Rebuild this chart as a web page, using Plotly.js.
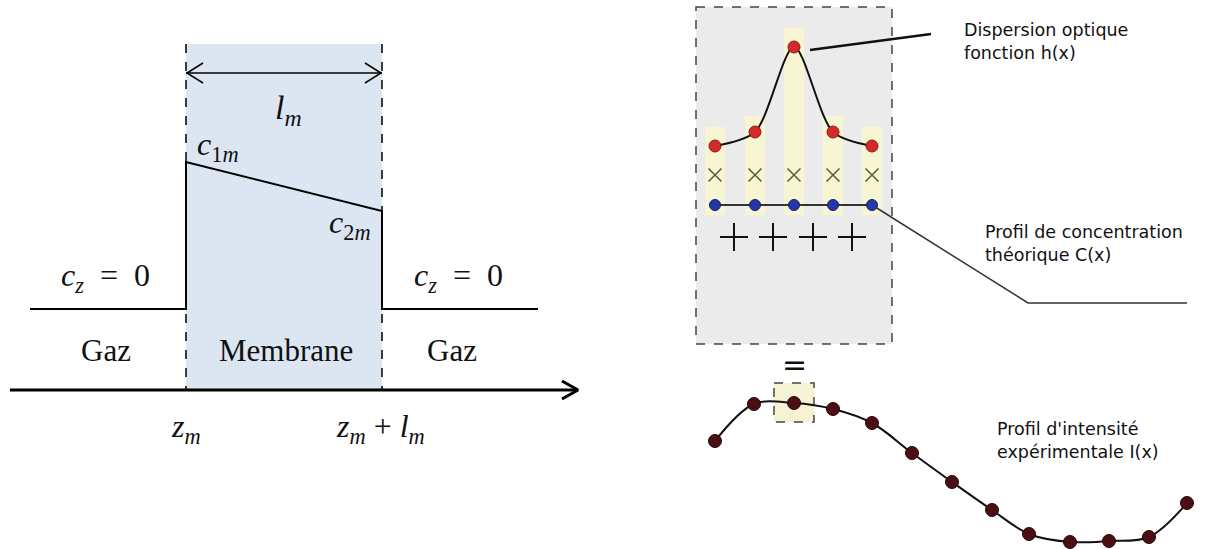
<!DOCTYPE html>
<html>
<head>
<meta charset="utf-8">
<script src="https://cdn.plot.ly/plotly-3.0.1.min.js"></script>
<style>html,body{margin:0;padding:0;background:#fff;}#chart{width:1208px;height:549px;}</style>
</head>
<body>
<div id="chart"></div>
<script>
// ---- Left diagram: concentration profile through the membrane ----
const profileX = [30, 186, 186, 382, 382, 538];
const profileY = [309, 309, 162, 211, 309, 309];
const membraneX = [186, 382];      // z_m, z_m + l_m
const membraneTopY = 44;
const axisX = [10, 578];
const axisY = 390;

// ---- Right diagram: convolution ----
const sampleX = [715, 755, 794, 833, 872];
const hY = [146, 132, 47, 132, 146];          // dispersion optique h(x)
const barTopY = [127, 116, 28, 116, 127];     // yellow bars
const barBottomY = 215;
const timesY = 175;
const cY = [205, 205, 205, 205, 205];         // profil de concentration C(x)
const plusX = [734, 773, 813, 852];
const plusY = 237;
const iX = [715, 754, 794, 833, 872, 912, 952, 992, 1029, 1070, 1109, 1149, 1187];
const iY = [441, 404, 403, 409, 423, 453, 482, 510, 534, 542, 541, 537, 503];

const serif = 'Liberation Serif, Times New Roman, serif';
const sans = 'DejaVu Sans, sans-serif';

const traces = [];
// yellow bars
traces.push({type:'bar', x: sampleX, base: sampleX.map(()=>barBottomY),
  y: barTopY.map(t => t - barBottomY), width: 20,
  marker:{color:'#f8f5d2', line:{width:0}}, hoverinfo:'skip'});
// profile
traces.push({type:'scatter', mode:'lines', x: profileX, y: profileY,
  line:{color:'#000', width:2}, hoverinfo:'skip'});
// axis
traces.push({type:'scatter', mode:'lines', x: axisX, y:[axisY, axisY],
  line:{color:'#000', width:3}, hoverinfo:'skip'});
traces.push({type:'scatter', mode:'lines', x:[axisX[1]-16, axisX[1], axisX[1]-16], y:[axisY-9, axisY, axisY+9],
  line:{color:'#000', width:3}, hoverinfo:'skip'});
// double arrow l_m
traces.push({type:'scatter', mode:'lines', x: membraneX, y:[73,73],
  line:{color:'#000', width:1.5}, hoverinfo:'skip'});
traces.push({type:'scatter', mode:'lines', x:[membraneX[0]+17, membraneX[0]+1, membraneX[0]+17], y:[63,73,83],
  line:{color:'#000', width:1.5}, hoverinfo:'skip'});
traces.push({type:'scatter', mode:'lines', x:[membraneX[1]-17, membraneX[1]-1, membraneX[1]-17], y:[63,73,83],
  line:{color:'#000', width:1.5}, hoverinfo:'skip'});

// leader lines
traces.push({type:'scatter', mode:'lines', x:[810, 931], y:[50, 34],
  line:{color:'#111', width:2.5}, hoverinfo:'skip'});
traces.push({type:'scatter', mode:'lines', x:[sampleX[4], 1028, 1187], y:[cY[4], 303, 303],
  line:{color:'#333', width:1.5}, hoverinfo:'skip'});
// h(x)
traces.push({type:'scatter', mode:'lines+markers', x: sampleX, y: hY,
  line:{color:'#111', width:2, shape:'spline', smoothing:0.8},
  marker:{color:'#d42a2a', size:12, line:{color:'#8a1a1a', width:1}}, hoverinfo:'skip'});
// times markers
traces.push({type:'scatter', mode:'markers', x: sampleX, y: sampleX.map(()=>timesY),
  marker:{symbol:'x-thin-open', size:13, color:'#5b5b35', line:{color:'#5b5b35', width:1.5}}, hoverinfo:'skip'});
// C(x)
traces.push({type:'scatter', mode:'lines+markers', x: sampleX, y: cY,
  line:{color:'#333', width:2},
  marker:{color:'#2536a8', size:11, line:{color:'#14206a', width:1}}, hoverinfo:'skip'});
// plus signs
traces.push({type:'scatter', mode:'markers', x: plusX, y: plusX.map(()=>plusY),
  marker:{symbol:'cross-thin-open', size:20, color:'#111', line:{color:'#111', width:2}}, hoverinfo:'skip'});
// I(x)
traces.push({type:'scatter', mode:'lines+markers', x: iX, y: iY,
  line:{color:'#111', width:2, shape:'spline', smoothing:1},
  marker:{color:'#4a0f12', size:13, line:{color:'#2a0508', width:1}}, hoverinfo:'skip'});

const shapes = [
  {type:'rect', xref:'x', yref:'y', x0: membraneX[0], x1: membraneX[1], y0: membraneTopY, y1: axisY,
   fillcolor:'#dce6f2', line:{width:0}, layer:'below'},
  {type:'line', xref:'x', yref:'y', x0: membraneX[0], x1: membraneX[0], y0: membraneTopY, y1: axisY,
   line:{color:'#000', width:1.5, dash:'dash'}, layer:'below'},
  {type:'line', xref:'x', yref:'y', x0: membraneX[1], x1: membraneX[1], y0: membraneTopY, y1: axisY,
   line:{color:'#000', width:1.5, dash:'dash'}, layer:'below'},
  {type:'rect', xref:'x', yref:'y', x0:696, x1:892, y0:7, y1:344,
   fillcolor:'#ebebeb', line:{color:'#444', width:1.5, dash:'dash'}, layer:'below'},
  {type:'rect', xref:'x', yref:'y', x0:774, x1:814, y0:383, y1:422,
   fillcolor:'#f6f3d4', line:{color:'#444', width:1.5, dash:'dash'}, layer:'below'}
];

function txt(x, y, text, size, family, anchor){
  return {xref:'x', yref:'y', x:x, y:y, text:text, showarrow:false,
    xanchor: anchor || 'center', yanchor:'middle', align:'left',
    font:{size:size, family:family, color:'#111'}};
}
const annotations = [
  txt(288, 110, '<i>l</i><sub><i>m</i></sub>', 34, serif),
  txt(218, 146, '<i>c</i><sub>1<i>m</i></sub>', 32, serif),
  txt(350, 224, '<i>c</i><sub>2<i>m</i></sub>', 32, serif),
  txt(105, 277, '<i>c</i><sub><i>z</i></sub>  =  0', 32, serif),
  txt(458, 277, '<i>c</i><sub><i>z</i></sub>  =  0', 32, serif),
  txt(106, 350, 'Gaz', 31, serif),
  txt(286, 350, 'Membrane', 31, serif),
  txt(452, 350, 'Gaz', 31, serif),
  txt(186, 428, '<i>z</i><sub><i>m</i></sub>', 32, serif),
  txt(380, 428, '<i>z</i><sub><i>m</i></sub> + <i>l</i><sub><i>m</i></sub>', 32, serif),
  txt(962, 41, 'Dispersion optique<br>fonction h(x)', 17.5, sans, 'left'),
  txt(983, 243, 'Profil de concentration<br>théorique C(x)', 17.5, sans, 'left'),
  txt(995, 440, "Profil d'intensité<br>expérimentale I(x)", 17.5, sans, 'left'),
  txt(794, 364, '=', 30, sans)
];

const layout = {
  width:1208, height:549,
  margin:{l:0, r:0, t:0, b:0},
  paper_bgcolor:'#fff', plot_bgcolor:'#fff',
  showlegend:false,
  xaxis:{range:[0,1208], visible:false, fixedrange:true},
  yaxis:{range:[549,0], visible:false, fixedrange:true},
  shapes: shapes,
  annotations: annotations,
  bargap:0
};
Plotly.newPlot('chart', traces, layout, {displayModeBar:false, staticPlot:true});
</script>
</body>
</html>
